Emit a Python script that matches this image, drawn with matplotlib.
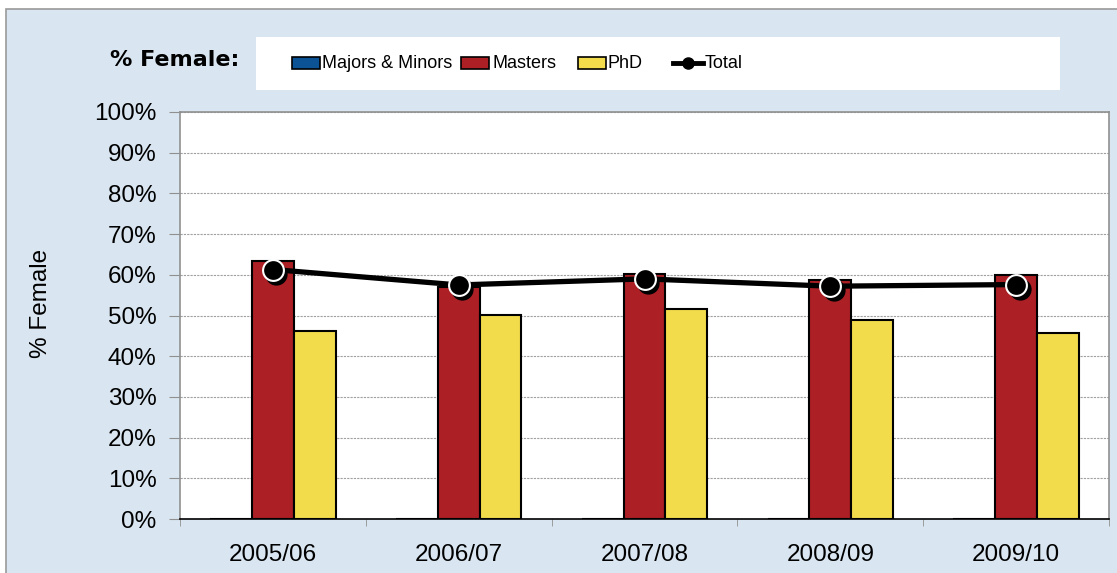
import matplotlib.pyplot as plt
import matplotlib.patches as mpatches
import matplotlib.transforms as mtrans
from matplotlib.lines import Line2D
import numpy as np

years = ["2005/06", "2006/07", "2007/08", "2008/09", "2009/10"]
majors = [0, 0, 0, 0, 0]
masters = [63.5, 57.1, 60.3, 58.7, 60.0]
phd = [46.1, 50.1, 51.5, 49.0, 45.6]
total = [61.3, 57.5, 59.0, 57.2, 57.6]

legend_labels = ["Majors & Minors", "Masters", "PhD", "Total"]

c_maj = "#0b5394"
c_mas = "#ab1f25"
c_phd = "#f2dc4c"

plt.rcParams['font.family'] = ['Liberation Sans', 'DejaVu Sans']

W, H = 1117, 573
fig = plt.figure(figsize=(W / 100, H / 100), dpi=100, facecolor="white")


def fx(px):
    return px / W


def fy(py):
    return 1 - py / H


# light blue panel with grey border
bg = mpatches.Rectangle((fx(6), -0.05), 1.2, fy(9) + 0.05,
                        transform=fig.transFigure, facecolor="#d9e6f1",
                        edgecolor="#9a9a9a", linewidth=1.2, zorder=0)
fig.patches.append(bg)

ax = fig.add_axes([fx(180), fy(519), fx(1109 - 180), (519 - 112) / H])
ax.set_zorder(3)
ax.set_facecolor("white")

x = np.arange(len(years))
w = 0.225
ax.bar(x - w, majors, w, color=c_maj, edgecolor="black", linewidth=1.5, zorder=3)
ax.bar(x, masters, w, color=c_mas, edgecolor="black", linewidth=1.5, zorder=3)
ax.bar(x + w, phd, w, color=c_phd, edgecolor="black", linewidth=1.5, zorder=3)

# drop shadow under the markers
shadow = mtrans.offset_copy(ax.transData, fig=fig, x=2.5, y=-3, units="points")
ax.plot(x, total, linestyle="none", marker="o", ms=15, mfc="black", mec="black",
        transform=shadow, zorder=4)
ax.plot(x, total, color="black", lw=3.8, zorder=5)
ax.plot(x, total, linestyle="none", marker="o", ms=15, mfc="black",
        mec="white", mew=1.5, zorder=6)

ax.set_xlim(-0.5, len(years) - 0.5)
ax.set_ylim(0, 100)
ax.set_yticks(np.arange(0, 101, 10))
ax.set_yticklabels([f"{v}%" for v in range(0, 101, 10)], fontsize=17.5)
ax.set_xticks(x)
ax.set_xticklabels(years, fontsize=17.5)
ax.tick_params(axis="x", length=0, pad=18)
ax.set_xticks(np.arange(-0.5, len(years), 1), minor=True)
ax.tick_params(axis="x", which="minor", length=5, color="#909090", direction="out")
ax.tick_params(axis="y", length=8, color="#909090", pad=9)

ax.grid(axis="y", color="#a0a0a0", linestyle=(0, (2, 1)), linewidth=0.8, zorder=1)
for s in ["top", "right", "left"]:
    ax.spines[s].set_color("#909090")
    ax.spines[s].set_linewidth(1.2)
ax.spines["bottom"].set_color("black")
ax.spines["bottom"].set_linewidth(1.2)
ax.spines["bottom"].set_zorder(4)

ax.set_ylabel("% Female", fontsize=17.5)
ax.yaxis.set_label_coords(-0.138, 0.53)

# legend, drawn by hand to match the placement of the original
fig.text(fx(110), fy(60), "% Female:", fontsize=16, fontweight="bold",
         family="DejaVu Sans", va="center", ha="left")
lbox = mpatches.Rectangle((fx(256), fy(90)), fx(1060 - 256), 53 / H,
                          transform=fig.transFigure, facecolor="white",
                          edgecolor="none", zorder=1)
fig.patches.append(lbox)

colors = [c_maj, c_mas, c_phd]
handle_x = [292, 461, 578]
for c, hx in zip(colors, handle_x):
    fig.patches.append(mpatches.Rectangle((fx(hx), fy(69)), fx(28), 12 / H,
                                          transform=fig.transFigure, facecolor=c,
                                          edgecolor="black", linewidth=1.2, zorder=2))
fig.lines.append(Line2D([fx(673), fx(703)], [fy(63), fy(63)], transform=fig.transFigure,
                        color="black", lw=3.5, zorder=2))
fig.lines.append(Line2D([fx(688)], [fy(63)], transform=fig.transFigure,
                        color="black", marker="o", ms=8, zorder=2))
text_x = [322, 492, 608, 705]
for lab, tx in zip(legend_labels, text_x):
    fig.text(fx(tx), fy(63), lab, fontsize=13, va="center", ha="left", zorder=3)

fig.savefig("out.png", dpi=100, facecolor="white")
